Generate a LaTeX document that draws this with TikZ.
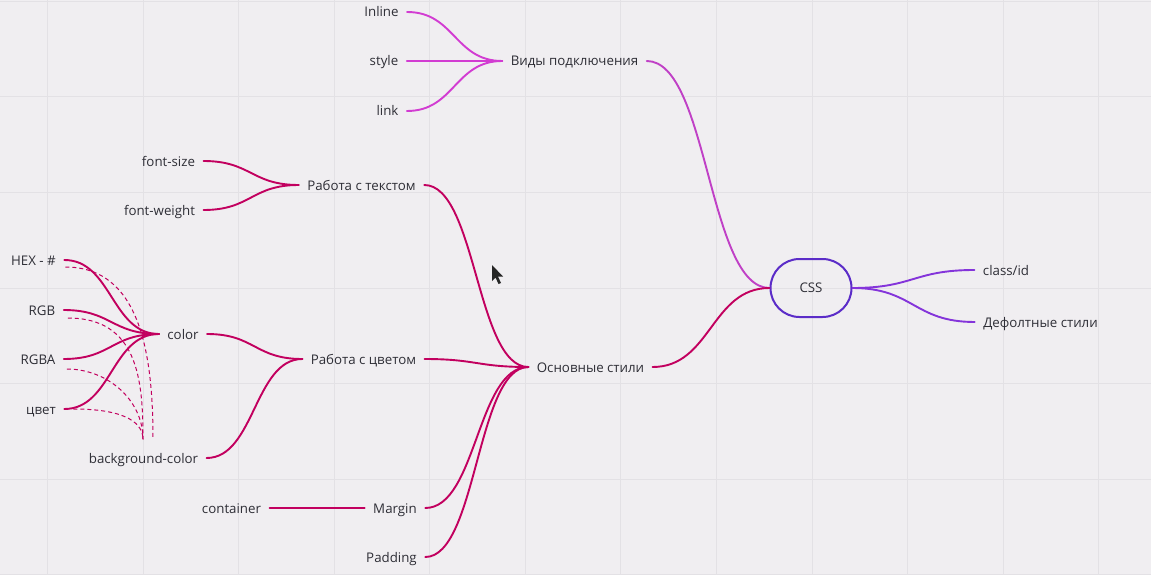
\documentclass[tikz,border=0pt]{standalone}
\usepackage{fontspec}
\setmainfont{Open Sans}
\usetikzlibrary{calc}
\definecolor{bg}{HTML}{F0EEF1}
\definecolor{gridc}{HTML}{E3E1E5}
\definecolor{crim}{HTML}{C2005F}
\definecolor{orch}{HTML}{D23CD2}
\definecolor{plum}{HTML}{C040C6}
\definecolor{violet}{HTML}{5B2CC8}
\definecolor{purp}{HTML}{8434DA}
\definecolor{txt}{HTML}{2E2E36}
\begin{document}
\begin{tikzpicture}[x=1pt,y=-1pt,
  lbl/.style={inner sep=0pt, outer xsep=8.5pt, text height=10pt, text depth=0pt, text=txt, font=\fontsize{13.3}{15}\selectfont},
  hc/.style={to path={let \p1=(\tikztostart),\p2=(\tikztotarget),\n1={0.5*(\x1+\x2)} in .. controls (\n1,\y1) and (\n1,\y2) .. (\tikztotarget)}},
  ln/.style={line width=1.9pt, line cap=round},
  dl/.style={crim, line width=1pt, dash pattern=on 4pt off 3pt},
  gl/.style={gridc, line width=1pt}
]
\fill[bg] (0,0) rectangle (1151,575);
\useasboundingbox (0,0) rectangle (1151,575);
\foreach \i in {0,...,11} \draw[gl] ({47.5+95.57*\i},0) -- ++(0,575);
\foreach \j in {0,...,6} \draw[gl] (0,{1.5+95.5*\j}) -- ++(1151,0);

% nodes
\node[lbl] (inline) at (381.5,12) {Inline};
\node[lbl] (style) at (384,61) {style};
\node[lbl] (link) at (387.5,111) {link};
\node[lbl] (vidy) at (574.5,61) {Виды подключения};
\node[lbl] (fsize) at (168.5,161) {font-size};
\node[lbl] (fweight) at (159.5,210) {font-weight};
\node[lbl] (rtext) at (361.5,185) {Работа с текстом};
\node[lbl] (hex) at (33.5,260) {HEX - \#};
\node[lbl] (rgb) at (42,310) {RGB};
\node[lbl] (rgba) at (38,359) {RGBA};
\node[lbl] (cvet) at (41,409) {цвет};
\node[lbl] (color) at (183,334) {color};
\node[lbl] (bgcolor) at (143.5,458) {background-color};
\node[lbl] (rcolor) at (363.5,359) {Работа с цветом};
\node[lbl] (container) at (231.5,508) {container};
\node[lbl] (margin) at (395,508) {Margin};
\node[lbl] (padding) at (391.5,557) {Padding};
\node[lbl] (osn) at (590.5,367) {Основные стили};
\node[draw=violet, line width=2pt, rounded corners=29pt, minimum width=81pt, minimum height=58pt, inner sep=0pt, text=txt, font=\fontsize{13.3}{15}\selectfont] (css) at (811,288) {CSS};
\node[lbl] (classid) at (1006,270) {class/id};
\node[lbl] (defolt) at (1040.5,322) {Дефолтные стили};

% connectors
\draw[ln, orch] (inline.east) to[hc] (vidy.west);
\draw[ln, orch] (style.east) to[hc] (vidy.west);
\draw[ln, orch] (link.east) to[hc] (vidy.west);
\draw[ln, plum] (vidy.east) to[hc] (css.west);
\draw[ln, crim] (osn.east) to[hc] (css.west);
\draw[ln, purp] (css.east) to[hc] (classid.west);
\draw[ln, purp] (css.east) to[hc] (defolt.west);
\draw[ln, crim] (rtext.east) to[hc] (osn.west);
\draw[ln, crim] (rcolor.east) to[hc] (osn.west);
\draw[ln, crim] (margin.east) to[hc] (osn.west);
\draw[ln, crim] (padding.east) to[hc] (osn.west);
\draw[ln, crim] (fsize.east) to[hc] (rtext.west);
\draw[ln, crim] (fweight.east) to[hc] (rtext.west);
\draw[ln, crim] (color.east) to[hc] (rcolor.west);
\draw[ln, crim] (bgcolor.east) to[hc] (rcolor.west);
\draw[ln, crim] (hex.east) to[hc] (color.west);
\draw[ln, crim] (rgb.east) to[hc] (color.west);
\draw[ln, crim] (rgba.east) to[hc] (color.west);
\draw[ln, crim] (cvet.east) to[hc] (color.west);
\draw[ln, crim] (container.east) -- (margin.west);

% dashed links to background-color
\draw[dl] ($(hex.east)+(1,7)$) .. controls +(75,0) and +(0,-85) .. ($(bgcolor.north)+(9.5,-13.5)$);
\draw[dl] ($(rgb.east)+(4,8)$) .. controls +(70,0) and +(0,-60) .. ($(bgcolor.north)+(-0.5,-13.5)$);
\draw[dl] ($(rgba.east)+(3,10)$) .. controls +(40,0) and +(0,-40) .. ($(bgcolor.north)+(-0.5,-13.5)$);
\draw[dl] ($(cvet.east)+(9,0)$) .. controls +(55,0) and +(0,-15) .. ($(bgcolor.north)+(-0.5,-13.5)$);

% mouse cursor
\fill[black!85] (492,265) -- (492,281) -- (495.5,277.5) -- (498.5,284) -- (501,283) -- (498,276.5) -- (503,276.5) -- cycle;
\end{tikzpicture}
\end{document}
